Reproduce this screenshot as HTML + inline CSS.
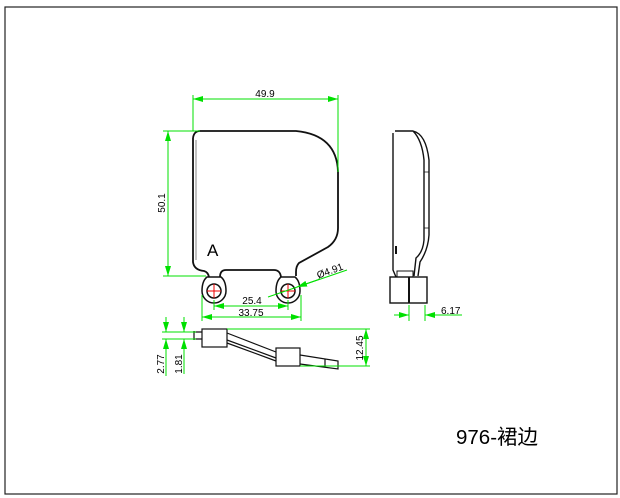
<!DOCTYPE html>
<html><head><meta charset="utf-8"><style>
html,body{margin:0;padding:0;background:#fff;width:620px;height:498px;overflow:hidden}
svg{display:block}
text{font-family:"Liberation Sans",sans-serif;fill:#000}
</style></head><body>
<svg width="620" height="498" viewBox="0 0 620 498" xmlns="http://www.w3.org/2000/svg">
<rect x="5" y="7" width="612" height="487" fill="none" stroke="#222" stroke-width="1.2"/>
<defs><marker id="a" viewBox="0 0 10 6" refX="10" refY="3" markerWidth="10" markerHeight="6" orient="auto-start-reverse"><path d="M0,0 L10,3 L0,6z" fill="#00e000"/></marker></defs>
<path d="M200,131 L296,131 Q337,135 338,172 L338,228 Q338,240 328,247 L299,263 Q296,266 296,272 L296,276 M193,138 Q194,131 200,131 M193,138 L193,262 Q194,270 204,271 Q208,272 209,277 M220,277 Q220,270 226,270 L274,270 Q280,270 281,277" fill="none" stroke="#111" stroke-width="1.8"/>
<path d="M196,140 L196,260" stroke="#666" stroke-width="0.8"/>
<g fill="#fff" stroke="#111" stroke-width="1.5">
<path d="M207,277 L221,277 Q226,281 226,291 A12,12 0 1 1 202,291 Q202,281 207,277z"/>
<path d="M281,277 L295,277 Q300,281 300,291 A12,12 0 1 1 276,291 Q276,281 281,277z"/>
<circle cx="214" cy="291" r="7"/><circle cx="288" cy="291" r="7"/>
</g>
<g stroke="#e00" stroke-width="1"><path d="M207,291h14M214,284v14M281,291h14M288,284v14"/></g>
<text x="207" y="256" font-size="17">A</text>
<g stroke="#00e000" stroke-width="1" fill="none">
<path d="M193,95V131M338,95V172M163,131H200M163,276H206"/>
<path d="M193,99H338" marker-start="url(#a)" marker-end="url(#a)"/>
<path d="M168,131V276" marker-start="url(#a)" marker-end="url(#a)"/>
<path d="M214,300V310M288,300V310M202,295V321M301,295V321"/>
<path d="M214,306H288" marker-start="url(#a)" marker-end="url(#a)"/>
<path d="M202,317H301" marker-start="url(#a)" marker-end="url(#a)"/>
<path d="M268,297L347,270"/><path d="M320,279L297,287" marker-end="url(#a)"/>
</g>
<text x="265" y="97" font-size="10" text-anchor="middle">49.9</text>
<text transform="translate(165,203) rotate(-90)" font-size="10" text-anchor="middle">50.1</text>
<text x="252" y="304" font-size="10" text-anchor="middle">25.4</text>
<text x="251" y="316" font-size="10" text-anchor="middle">33.75</text>
<text transform="translate(331,274) rotate(-20)" font-size="10" text-anchor="middle">Ø4.91</text>
<g fill="none" stroke="#111" stroke-width="1.4">
<path d="M395,131 L413,131 Q426,134 429,160 L429,235 Q428,250 420,262 L418,276 M393,133 L393,270 L396,277 M413,131 Q422,140 424,160 L424,240 Q423,252 416,258 L414,276"/>
<path d="M424,172H429M424,228H429" stroke-width="0.8"/>
<rect x="390" y="277" width="37" height="26" fill="#fff"/>
<path d="M409,277V303" stroke-width="2"/>
<path d="M397,271h16v6h-16z" stroke-width="1"/>
<path d="M396,246v8" stroke-width="2"/>
</g>
<g stroke="#00e000" stroke-width="1" fill="none">
<path d="M409,305V321M425,305V321"/>
<path d="M394,315H409" marker-end="url(#a)"/><path d="M462,315H425" marker-end="url(#a)"/>
</g>
<text x="441" y="314" font-size="10">6.17</text>
<g fill="none" stroke="#111" stroke-width="1.2">
<path d="M194,332L202,332M194,339L202,339M194,331V340"/>
<path d="M227,333L276,352M227,340L276,358M227,343L276,361"/>
<path d="M300,355L338,361L338,369L300,364M325,359V367"/>
<rect x="202" y="329" width="25" height="18" fill="#fff"/>
<rect x="276" y="348" width="24" height="18" fill="#fff"/>
</g>
<g stroke="#00e000" stroke-width="1" fill="none">
<path d="M227,329H370M300,366H370M162,332H196M162,339H196"/>
<path d="M366,329V366" marker-start="url(#a)" marker-end="url(#a)"/>
<path d="M166,317V332" marker-end="url(#a)"/><path d="M166,376V339" marker-end="url(#a)"/>
<path d="M184,317V332" marker-end="url(#a)"/><path d="M184,374V339" marker-end="url(#a)"/>
</g>
<text transform="translate(363,348) rotate(-90)" font-size="10" text-anchor="middle">12.45</text>
<text transform="translate(164,364) rotate(-90)" font-size="10" text-anchor="middle">2.77</text>
<text transform="translate(182,364) rotate(-90)" font-size="10" text-anchor="middle">1.81</text>
<text x="456" y="444" font-size="20.5" font-family="'Liberation Sans','Noto Sans CJK SC',sans-serif">976-裙边</text>
</svg>
</body></html>
